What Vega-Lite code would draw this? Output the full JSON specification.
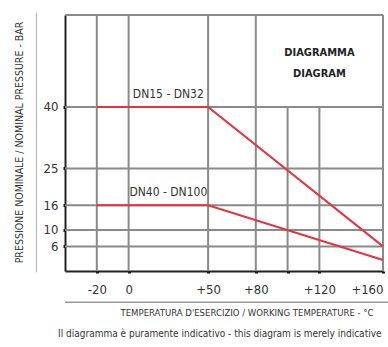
{
  "$schema": "https://vega.github.io/schema/vega-lite/v6.json",
  "width": 318,
  "height": 256,
  "autosize": "none",
  "padding": {"left": 65, "top": 15, "right": 5, "bottom": 76},
  "background": "white",
  "config": {
    "view": {"stroke": null},
    "font": "DejaVu Sans Condensed, sans-serif"
  },
  "title": {
    "text": "Il diagramma è puramente indicativo - this diagram is merely indicative",
    "orient": "bottom",
    "anchor": "start",
    "fontSize": 10,
    "fontWeight": "normal",
    "color": "#333",
    "dx": 44,
    "offset": 12
  },
  "datasets": {
    "vgrid": [
      {"t": -20, "p": 0, "p2": 62.4},
      {"t": 0, "p": 0, "p2": 62.4},
      {"t": 50, "p": 0, "p2": 62.4},
      {"t": 80, "p": 0, "p2": 62.4},
      {"t": 100, "p": 0, "p2": 40},
      {"t": 120, "p": 0, "p2": 40},
      {"t": 160, "p": 0, "p2": 62.4}
    ],
    "hgrid": [
      {"p": 6, "t": -40, "t2": 160},
      {"p": 10, "t": -40, "t2": 160},
      {"p": 16, "t": -40, "t2": 160},
      {"p": 25, "t": -40, "t2": 160},
      {"p": 40, "t": -40, "t2": 160},
      {"p": 62.4, "t": -40, "t2": 160}
    ],
    "sepH": [{"p": -7.6, "t": -40, "t2": 170}],
    "sepV": [{"t": -58, "p": -0.3, "p2": 63}],
    "curves": [
      {"series": "DN15 - DN32", "t": -20, "p": 40},
      {"series": "DN15 - DN32", "t": 50, "p": 40},
      {"series": "DN15 - DN32", "t": 160, "p": 6},
      {"series": "DN40 - DN100", "t": -20, "p": 16},
      {"series": "DN40 - DN100", "t": 50, "p": 16},
      {"series": "DN40 - DN100", "t": 160, "p": 2.7}
    ],
    "labels": [
      {"label": "DN15 - DN32", "t": 25, "p": 40},
      {"label": "DN40 - DN100", "t": 25, "p": 16}
    ],
    "box": [{"label": ["DIAGRAMMA", "DIAGRAM"], "t": 120, "p": 53.2}]
  },
  "encoding": {
    "x": {
      "field": "t", "type": "quantitative",
      "scale": {"domain": [-40, 160], "nice": false, "zero": false},
      "axis": {
        "values": [-20, 0, 50, 80, 100, 120, 160],
        "labelExpr": "datum.value == 100 ? '' : (datum.value > 0 ? '+' + datum.value : (datum.value < 0 ? '-' + abs(datum.value) : '0'))",
        "grid": false,
        "domainColor": "#222", "domainWidth": 2,
        "tickColor": "#111", "tickSize": 2, "tickWidth": 3,
        "labelFontSize": 13, "labelColor": "#333", "labelPadding": 10,
        "labelBaseline": "top",
        "title": "TEMPERATURA D'ESERCIZIO / WORKING TEMPERATURE - °C",
        "titleFontSize": 9.5, "titleFontWeight": "normal", "titleColor": "#333",
        "titleAnchor": "start", "titleAlign": "left", "titleBaseline": "middle",
        "titleX": 55, "titleY": 41
      }
    },
    "y": {
      "field": "p", "type": "quantitative",
      "scale": {"domain": [0, 62.4], "nice": false, "zero": false},
      "axis": {
        "values": [6, 10, 16, 25, 40],
        "grid": false,
        "domainColor": "#222", "domainWidth": 2,
        "tickColor": "#111", "tickSize": 2, "tickWidth": 3,
        "labelFontSize": 13, "labelColor": "#333", "labelPadding": 5,
        "title": "PRESSIONE NOMINALE / NOMINAL PRESSURE - BAR",
        "titleFontSize": 10.5, "titleFontWeight": "normal", "titleColor": "#333",
        "titleAngle": -90, "titleAlign": "center", "titleBaseline": "middle",
        "titleX": -46, "titleY": 127
      }
    }
  },
  "layer": [
    {
      "data": {"name": "vgrid"},
      "mark": {"type": "rule", "color": "#8a8a8a", "strokeWidth": 2},
      "encoding": {"y2": {"field": "p2"}}
    },
    {
      "data": {"name": "hgrid"},
      "mark": {"type": "rule", "color": "#8a8a8a", "strokeWidth": 2},
      "encoding": {"x2": {"field": "t2"}}
    },
    {
      "data": {"name": "sepH"},
      "mark": {"type": "rule", "color": "#9a9a9a", "strokeWidth": 1.5},
      "encoding": {"x2": {"field": "t2"}}
    },
    {
      "data": {"name": "sepV"},
      "mark": {"type": "rule", "color": "#b0b0b0", "strokeWidth": 1},
      "encoding": {"y2": {"field": "p2"}}
    },
    {
      "data": {"name": "curves"},
      "mark": {"type": "line", "color": "#e3343f", "strokeWidth": 2},
      "encoding": {"detail": {"field": "series"}}
    },
    {
      "data": {"name": "labels"},
      "mark": {"type": "text", "fontSize": 12, "color": "#333", "baseline": "bottom", "dy": -6},
      "encoding": {"text": {"field": "label"}}
    },
    {
      "data": {"name": "box"},
      "mark": {"type": "text", "fontSize": 11, "fontWeight": "bold", "color": "#222", "baseline": "middle", "lineHeight": 21},
      "encoding": {"text": {"field": "label"}}
    }
  ]
}
